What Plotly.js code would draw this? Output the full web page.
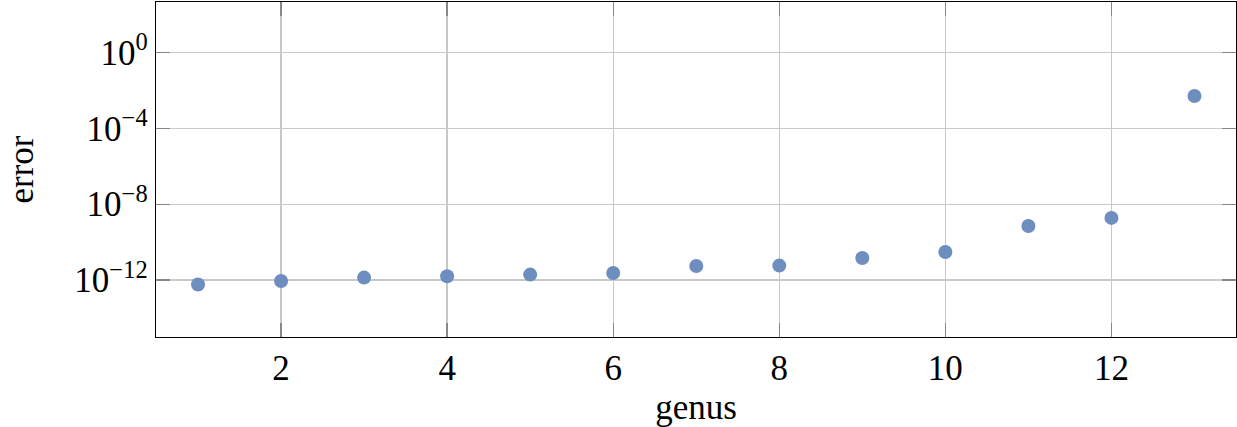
<!DOCTYPE html>
<html>
<head>
<meta charset="utf-8">
<script src="https://cdn.plot.ly/plotly-3.0.1.min.js"></script>
<style>html,body{margin:0;padding:0;background:#fff;}#chart{width:1237px;height:427px;}</style>
</head>
<body>
<div id="chart"></div>
<script>
const genus = [1, 2, 3, 4, 5, 6, 7, 8, 9, 10, 11, 12, 13];
const errorValues = [5.9e-13, 8.9e-13, 1.35e-12, 1.6e-12, 1.95e-12, 2.35e-12, 5.5e-12, 5.8e-12, 1.45e-11, 3.0e-11, 7.1e-10, 1.9e-9, 5.1e-3];
const xTickVals = [2, 4, 6, 8, 10, 12];
const yTickVals = [1, 1e-4, 1e-8, 1e-12];
const yTickText = ['10<sup>0</sup>', '10<sup>−4</sup>', '10<sup>−8</sup>', '10<sup>−12</sup>'];

const font = 'Liberation Serif';
const trace = {
  x: genus, y: errorValues, type: 'scatter', mode: 'markers',
  marker: {color: '#6d8ebf', size: 14, line: {width: 0}},
  hoverinfo: 'none'
};
const layout = {
  width: 1237, height: 427,
  margin: {l: 156, r: 1, t: 2, b: 90},
  paper_bgcolor: '#fff', plot_bgcolor: '#fff',
  showlegend: false,
  font: {family: font, size: 35, color: '#000'},
  xaxis: {
    range: [0.494, 13.5], tickvals: xTickVals, ticktext: xTickVals.map(String),
    showgrid: true, gridcolor: '#c8c8c8', gridwidth: 1.3,
    zeroline: false, showline: true, linecolor: '#000', linewidth: 1.3, mirror: 'ticks',
    ticks: 'inside', ticklen: 14, tickcolor: '#888', tickwidth: 1.3,
    tickfont: {family: font, size: 35},
    title: {text: 'genus', font: {family: font, size: 35}, standoff: 8}
  },
  yaxis: {
    type: 'log', range: [-15.0, 2.66], tickvals: yTickVals, ticktext: yTickText,
    showgrid: true, gridcolor: '#c8c8c8', gridwidth: 1.3,
    zeroline: false, showline: true, linecolor: '#000', linewidth: 1.3, mirror: 'ticks',
    ticks: 'inside', ticklen: 14, tickcolor: '#888', tickwidth: 1.3,
    tickfont: {family: font, size: 35},
    title: {text: 'error', font: {family: font, size: 35}, standoff: 30}
  }
};
Plotly.newPlot('chart', [trace], layout, {displayModeBar: false, staticPlot: true});
</script>
</body>
</html>
